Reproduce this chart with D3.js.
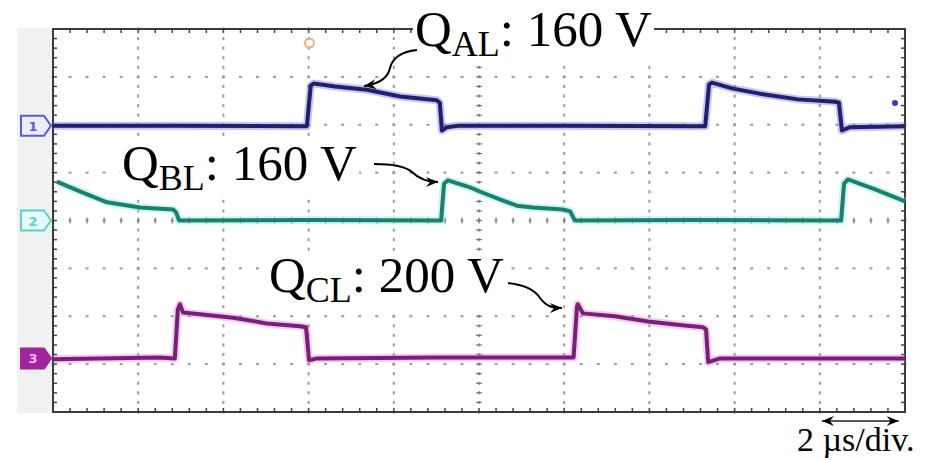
<!DOCTYPE html>
<html>
<head>
<meta charset="utf-8">
<script src="https://cdn.jsdelivr.net/npm/d3@7"></script>
<style>
  body { margin: 0; background: #fff; }
  svg { display: block; }
  .lbl { font-family: "Liberation Serif", "Times New Roman", serif; fill: #000; }
</style>
</head>
<body>
<svg id="chart" width="935" height="460"></svg>
<script>
// time in µs, amplitude in divisions (0 = screen centre)
var ch1T = [0, 3.0, 5.96, 6.05, 6.12, 6.62, 7.37, 8.15, 9.01, 9.08, 9.13, 9.25, 9.5, 12, 15.31, 15.40, 15.47, 15.94, 16.71, 17.49, 18.36, 18.45, 18.52, 18.71, 20];
var ch1V = [1.98, 1.98, 1.97, 2.82, 2.86, 2.80, 2.73, 2.59, 2.51, 2.46, 1.88, 1.95, 1.98, 1.98, 1.97, 2.84, 2.88, 2.76, 2.63, 2.53, 2.48, 2.46, 1.88, 1.95, 1.97];

var ch2T = [0.09, 0.63, 1.27, 2.04, 2.82, 2.89, 2.96, 6, 9.11, 9.18, 9.27, 9.79, 10.09, 10.49, 10.89, 11.27, 11.97, 12.14, 12.25, 15, 18.50, 18.57, 18.66, 19.30, 20];
var ch2V = [0.81, 0.61, 0.38, 0.27, 0.23, 0.17, 0.0, 0.01, 0.0, 0.77, 0.84, 0.69, 0.58, 0.44, 0.31, 0.27, 0.23, 0.19, 0.0, 0.01, 0.0, 0.77, 0.86, 0.65, 0.40];

var ch3T = [0, 2.5, 2.86, 2.93, 2.98, 3.05, 3.45, 4.23, 5.02, 5.80, 5.94, 6.01, 6.2, 9, 12.22, 12.30, 12.32, 12.44, 13.19, 13.97, 14.77, 15.26, 15.33, 15.38, 15.66, 20];
var ch3V = [-2.90, -2.86, -2.88, -1.86, -1.75, -1.92, -1.96, -2.03, -2.15, -2.21, -2.23, -2.92, -2.88, -2.86, -2.86, -1.80, -1.75, -1.94, -2.00, -2.11, -2.19, -2.23, -2.28, -2.96, -2.88, -2.88];

var chOffsets = [1.98, 0.0, -2.88];       // channel ground markers
var majorT = d3.range(0, 20.01, 2);
var majorV = d3.range(-4, 4.01, 1);
var minorT = d3.range(0, 20.01, 0.4);
var minorV = d3.range(-4, 4.01, 0.2);

var labels = [
  { main: "Q", sub: "AL", rest: ": 160 V", x: 415, y: 46 },
  { main: "Q", sub: "BL", rest: ": 160 V", x: 122, y: 180 },
  { main: "Q", sub: "CL", rest: ": 200 V", x: 269, y: 292 }
];

var svg = d3.select("#chart");
var x = d3.scaleLinear().domain([0, 20]).range([53, 905]);
var y = d3.scaleLinear().domain([-4, 4]).range([412, 29]);

// left grey margin of the scope screenshot
svg.append("rect").attr("x", 17).attr("y", 28).attr("width", 36).attr("height", 385).attr("fill", "#f1f1f1");

// grid dots
var grid = svg.append("g").attr("fill", "#9a9a9a");
majorT.slice(1, -1).forEach(function (t) {
  grid.selectAll(null).data(minorV).join("rect")
    .attr("x", x(t) - 1).attr("y", d => y(d) - 1.5).attr("width", 2).attr("height", 3);
});
majorV.slice(1, -1).forEach(function (v) {
  grid.selectAll(null).data(minorT).join("rect")
    .attr("x", d => x(d) - 1.5).attr("y", y(v) - 1).attr("width", 3).attr("height", 2);
});

// centre axes with ticks
var axes = svg.append("g").attr("stroke", "#777").attr("stroke-width", 1.2);
axes.selectAll(null).data(minorV).join("line")
  .attr("x1", x(10) - 3).attr("x2", x(10) + 3).attr("y1", d => y(d)).attr("y2", d => y(d));
axes.selectAll(null).data(minorT).join("line")
  .attr("y1", y(0) - 3).attr("y2", y(0) + 3).attr("x1", d => x(d)).attr("x2", d => x(d));

// border ticks
var bt = svg.append("g").attr("stroke", "#444").attr("stroke-width", 1.5);
bt.selectAll(null).data(minorT).join("line")
  .attr("x1", d => x(d)).attr("x2", d => x(d)).attr("y1", y(4)).attr("y2", y(4) + 4);
bt.selectAll(null).data(minorT).join("line")
  .attr("x1", d => x(d)).attr("x2", d => x(d)).attr("y1", y(-4)).attr("y2", y(-4) - 4);
bt.selectAll(null).data(minorV).join("line")
  .attr("y1", d => y(d)).attr("y2", d => y(d)).attr("x1", x(0)).attr("x2", x(0) + 4);
bt.selectAll(null).data(minorV).join("line")
  .attr("y1", d => y(d)).attr("y2", d => y(d)).attr("x1", x(20)).attr("x2", x(20) - 4);

svg.append("rect").attr("x", x(0)).attr("y", y(4)).attr("width", x(20) - x(0)).attr("height", y(-4) - y(4))
  .attr("fill", "none").attr("stroke", "#3a3a3a").attr("stroke-width", 2);

// label texts (white boxes behind them, placed before the traces)
var bgLayer = svg.append("g");
var traceLayer = svg.append("g");
var textLayer = svg.append("g");

labels.forEach(function (l) {
  var t = textLayer.append("text").attr("class", "lbl").attr("x", l.x).attr("y", l.y).attr("font-size", 51);
  t.append("tspan").text(l.main);
  t.append("tspan").attr("font-size", 36).attr("dy", 10).text(l.sub);
  t.append("tspan").attr("dy", -10).text(l.rest);
  var b = t.node().getBBox();
  bgLayer.append("rect").attr("x", b.x - 2).attr("y", b.y + 6).attr("width", b.width + 4).attr("height", b.height - 6)
    .attr("fill", "#fff");
});

// traces
var traces = [
  { t: ch1T, v: ch1V, color: "#20206e", halo: "#7070d8" },
  { t: ch2T, v: ch2V, color: "#1d7f70", halo: "#80e8e0" },
  { t: ch3T, v: ch3V, color: "#7a1f78", halo: "#e080e0" }
];
var line = d3.line().x(d => x(d[0])).y(d => y(d[1]));
traces.forEach(function (tr) {
  var pts = d3.zip(tr.t, tr.v);
  traceLayer.append("path").attr("d", line(pts)).attr("fill", "none")
    .attr("stroke", tr.halo).attr("stroke-opacity", 0.4).attr("stroke-width", 8).attr("stroke-linejoin", "round");
  traceLayer.append("path").attr("d", line(pts)).attr("fill", "none")
    .attr("stroke", tr.color).attr("stroke-width", 4).attr("stroke-linejoin", "round");
});

// channel markers
var markerCols = [
  { stroke: "#5a5ad6", fill: "#ececff", text: "#5a5ad6", n: "1" },
  { stroke: "#62d0c8", fill: "#e6fbf9", text: "#62d0c8", n: "2" },
  { stroke: "#a0249e", fill: "#a0249e", text: "#f4b8f2", n: "3" }
];
chOffsets.forEach(function (v, i) {
  var c = markerCols[i], cy = y(v);
  var g = svg.append("g");
  g.append("path")
    .attr("d", "M21," + (cy - 10) + "H44L51," + cy + "L44," + (cy + 10) + "H21Z")
    .attr("fill", c.fill).attr("stroke", c.stroke).attr("stroke-width", 2);
  g.append("text").attr("x", 33).attr("y", cy + 5).attr("text-anchor", "middle")
    .attr("font-family", "DejaVu Sans, sans-serif").attr("font-size", 13).attr("font-weight", "bold")
    .attr("fill", c.text).text(c.n);
});

// trigger marker and ch1 level dot
svg.append("circle").attr("cx", x(6.02)).attr("cy", 43).attr("r", 4.5)
  .attr("fill", "none").attr("stroke", "#f2b27a").attr("stroke-width", 2);
svg.append("circle").attr("cx", 895).attr("cy", 103).attr("r", 3).attr("fill", "#3838c0");

// arrows
var defs = svg.append("defs");
defs.append("marker").attr("id", "ah").attr("viewBox", "-12 -6 14 12").attr("refX", 0).attr("refY", 0)
  .attr("markerWidth", 14).attr("markerHeight", 12).attr("markerUnits", "userSpaceOnUse").attr("orient", "auto-start-reverse")
  .append("path").attr("d", "M0,0L-12,-5L-8,0L-12,5Z").attr("fill", "#000");

var arrowPaths = [
  "M417,50C398,52 392,60 390,68C388,78 378,84 364,86",
  "M374,164C392,164 405,166 412,172C420,180 428,182 438,182",
  "M508,283C525,285 535,290 540,298C546,306 552,308 562,308"
];
svg.append("g").selectAll("path").data(arrowPaths).join("path")
  .attr("d", d => d).attr("fill", "none").attr("stroke", "#000").attr("stroke-width", 2)
  .attr("marker-end", "url(#ah)");

// time scale bar
svg.append("line").attr("x1", x(18.05)).attr("x2", x(19.85)).attr("y1", 421).attr("y2", 421)
  .attr("stroke", "#222").attr("stroke-width", 1.5)
  .attr("marker-start", "url(#ah)").attr("marker-end", "url(#ah)");
svg.append("text").attr("class", "lbl").attr("x", 797).attr("y", 451).attr("font-size", 34).text("2 µs/div.");
</script>
</body>
</html>
